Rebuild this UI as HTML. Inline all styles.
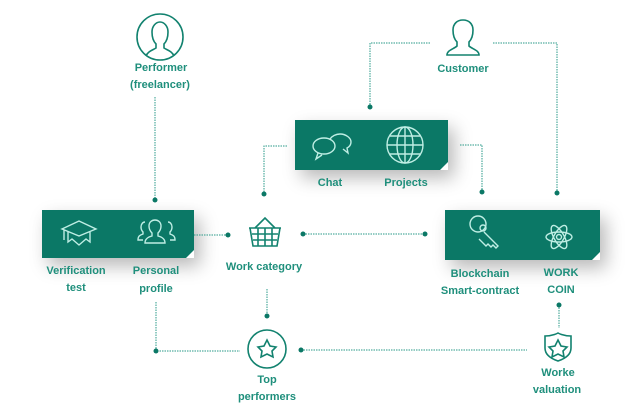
<!DOCTYPE html>
<html><head><meta charset="utf-8"><style>
body{margin:0;background:#fff;width:640px;height:416px;overflow:hidden}
.box{position:absolute;background:#0b7866;box-shadow:6px 8px 18px rgba(0,0,0,0.28)}
svg{position:absolute;left:0;top:0}
text{font-family:"Liberation Sans",sans-serif;font-weight:bold;font-size:11px;fill:#1f8f7c;text-anchor:middle}
</style></head><body>
<div class="box" style="left:42px;top:210px;width:152px;height:48px"></div>
<div class="box" style="left:295px;top:120px;width:153px;height:50px"></div>
<div class="box" style="left:445px;top:210px;width:155px;height:50px"></div>
<svg width="640" height="416" viewBox="0 0 640 416">
<g stroke="#2a9a88" stroke-width="1" stroke-dasharray="1.5 1" fill="none">
<path d="M155 97V200"/><path d="M194 235H228"/><path d="M303 234H425"/>
<path d="M267 289V316"/><path d="M156 302V351H240"/><path d="M301 350H527"/>
<path d="M287 146H264V194"/><path d="M430 43H370V107"/><path d="M493 43H557V193"/>
<path d="M460 145H482V192"/><path d="M559 305V328"/>
</g>
<g fill="#0b7866">
<circle cx="155" cy="200" r="2.5"/><circle cx="228" cy="235" r="2.5"/><circle cx="303" cy="234" r="2.5"/><circle cx="425" cy="234" r="2.5"/>
<circle cx="267" cy="316" r="2.5"/><circle cx="156" cy="351" r="2.5"/><circle cx="301" cy="350" r="2.5"/>
<circle cx="264" cy="194" r="2.5"/><circle cx="370" cy="107" r="2.5"/><circle cx="557" cy="193" r="2.5"/><circle cx="482" cy="192" r="2.5"/><circle cx="559" cy="305" r="2.5"/>
</g>
<path d="M186 258L194 250V258Z" fill="#fff"/><path d="M440 170L448 162V170Z" fill="#fff"/><path d="M592 260L600 252V260Z" fill="#fff"/>
<g stroke="#12826f" stroke-width="1.6" fill="none">
<circle cx="160" cy="37" r="23"/>
<path d="M146 56c2-5 7-6 10-8v-4c-3-3-4-7-4-12 0-6 4-10 8-10s8 4 8 10c0 5-1 9-4 12v4c3 2 8 3 10 8"/>
<path d="M447 55c0-5 7-6 10-9v-4c-3-3-4-7-4-12 0-6 4-10 10-10s10 4 10 10c0 5-1 9-4 12v4c3 3 10 4 10 9z"/>
<path d="M249 228h32M250 228l3 18h24l3-18M255 228l10-10 10 10M252 234h26M253 240h24M258 228v18M265 228v18M272 228v18"/>
<circle cx="267" cy="349" r="19"/>
<path d="M267 340l3 6 6 1-4 4 1 6-6-3-6 3 1-6-4-4 6-1z"/>
<path d="M545 336c8 0 13-3 13-3s5 3 13 3v12c0 7-7 11-13 13-6-2-13-6-13-13z"/>
<path d="M558 340l3 6 6 1-4 4 1 6-6-3-6 3 1-6-4-4 6-1z"/>
</g>
<g stroke="#bfeee4" stroke-width="1.4" fill="none">
<path d="M62 229l17-8 17 8-17 7z M68 232v10l4-3 7 6 7-6 4 3v-10M64 230v10"/>
<path d="M145 243c0-4 3-6 7-7v-3c-2-2-3-4-3-7 0-4 3-6 6-6s6 2 6 6c0 3-1 5-3 7v3c4 1 7 3 7 7z"/>
<path d="M145 222c-2 0-4 2-4 5 0 2 1 4 2 5v2c-3 1-5 2-5 6h5M168 222c2 0 4 2 4 5 0 2-1 4-2 5v2c3 1 5 2 5 6h-5"/>
<ellipse cx="324" cy="146" rx="11" ry="8"/><path d="M318 153l-2 6 6-4"/>
<path d="M330 139c2-3 6-5 10-5 6 0 11 4 11 8 0 3-2 5-4 6l1 5-5-4"/>
<circle cx="405" cy="145" r="18"/><ellipse cx="405" cy="145" rx="8" ry="18"/><path d="M387 145h36M390 136h30M390 154h30M405 127v36"/>
<circle cx="478" cy="224" r="8"/><circle cx="483" cy="228" r="3"/><path d="M484 232l14 14-2 2-3-3-2 2-3-3-2 2-7-7"/>
<ellipse cx="559" cy="237" rx="13" ry="5"/><ellipse cx="559" cy="237" rx="13" ry="5" transform="rotate(60 559 237)"/><ellipse cx="559" cy="237" rx="13" ry="5" transform="rotate(-60 559 237)"/><circle cx="559" cy="237" r="2.5"/>
</g>
<text x="161" y="71">Performer</text><text x="160" y="88">(freelancer)</text>
<text x="463" y="72">Customer</text>
<text x="330" y="186">Chat</text><text x="406" y="186">Projects</text>
<text x="76" y="274">Verification</text><text x="76" y="291">test</text>
<text x="156" y="274">Personal</text><text x="156" y="292">profile</text>
<text x="264" y="270">Work category</text>
<text x="267" y="383">Top</text><text x="267" y="400">performers</text>
<text x="480" y="277">Blockchain</text><text x="480" y="294">Smart-contract</text>
<text x="561" y="276">WORK</text><text x="561" y="293">COIN</text>
<text x="558" y="376">Worke</text><text x="557" y="393">valuation</text>
</svg>
</body></html>
